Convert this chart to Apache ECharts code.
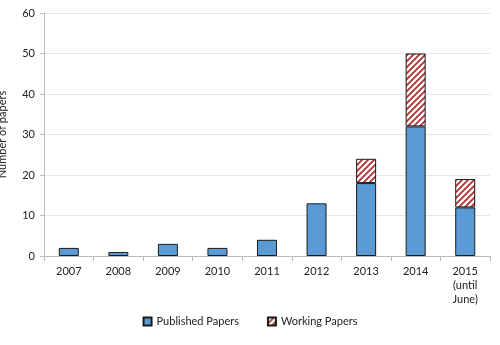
<!DOCTYPE html>
<html><head><meta charset="utf-8">
<script src="https://cdn.jsdelivr.net/npm/echarts@6/dist/echarts.min.js"></script>
<style>html,body{margin:0;padding:0;background:#fff}#c{width:500px;height:345px}</style>
</head><body><div id="c"></div>
<script>
const categories = ['2007','2008','2009','2010','2011','2012','2013','2014','2015\n(until\nJune)'];
const published = [2,1,3,2,4,13,18,32,12];
const working = [0,0,0,0,0,0,6,18,7];
const yTicks = {min:0, max:60, interval:10};

function hatch(){
  const c = document.createElement('canvas');
  c.width = 6; c.height = 6;
  const g = c.getContext('2d');
  g.fillStyle = '#ffffff'; g.fillRect(0,0,6,6);
  g.strokeStyle = '#b03030'; g.lineWidth = 1.8;
  g.beginPath();
  g.moveTo(-1,7); g.lineTo(7,-1);
  g.moveTo(-4,4); g.lineTo(4,-4);
  g.moveTo(2,10); g.lineTo(10,2);
  g.stroke();
  return c;
}
const font = 'Lato, "Liberation Sans", sans-serif';
const chart = echarts.init(document.getElementById('c'));
chart.setOption({
  animation:false,
  textStyle:{fontFamily:font},
  grid:{left:44,right:10,top:13,bottom:89,containLabel:false,outerBoundsMode:'none'},
  legend:{bottom:13,left:'center',itemWidth:8,itemHeight:8,itemGap:28,
    textStyle:{fontSize:11,color:'#222',fontFamily:font},
    data:[{name:'Published Papers',icon:'rect'},{name:'Working Papers',icon:'rect'}]},
  xAxis:{type:'category',data:categories,
    axisLine:{lineStyle:{color:'#bbb'}},
    axisTick:{show:true,alignWithLabel:false,length:5,lineStyle:{color:'#bbb'}},
    axisLabel:{color:'#222',fontSize:11,lineHeight:14,margin:8,interval:0,fontFamily:font}},
  yAxis:{type:'value',min:yTicks.min,max:yTicks.max,interval:yTicks.interval,
    name:'Number of papers',nameLocation:'middle',nameGap:36,nameRotate:90,
    nameTextStyle:{color:'#222',fontSize:11,fontFamily:font},
    axisLine:{show:true,lineStyle:{color:'#bbb'}},
    axisTick:{show:true,length:4,lineStyle:{color:'#bbb'}},
    axisLabel:{color:'#222',fontSize:11,margin:9,fontFamily:font},
    splitLine:{lineStyle:{color:'#e6e6e6'}}},
  series:[
    {name:'Published Papers',type:'bar',stack:'a',data:published,barWidth:20,
      itemStyle:{color:'#5b9bd5',borderColor:'#1a1a1a',borderWidth:1}},
    {name:'Working Papers',type:'bar',stack:'a',data:working.map(v=>v===0?null:v),barWidth:20,
      itemStyle:{color:{image:hatch(),repeat:'repeat'},borderColor:'#1a1a1a',borderWidth:1}}
  ]
});
</script></body></html>
